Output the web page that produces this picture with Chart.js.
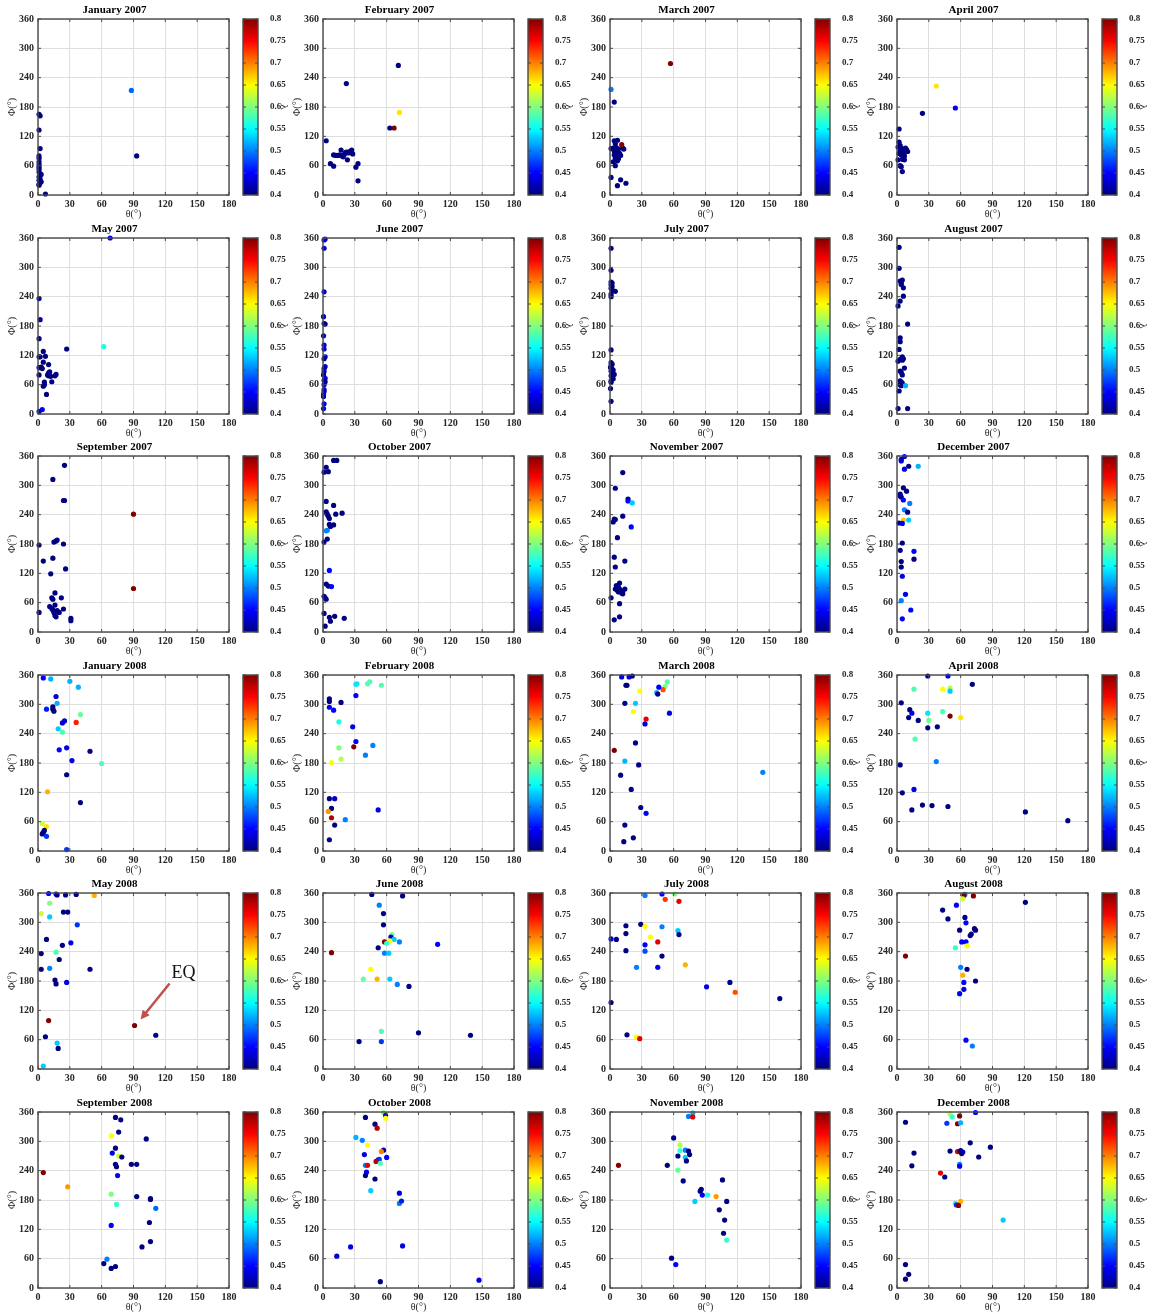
<!DOCTYPE html>
<html lang="en">
<head>
<meta charset="UTF-8">
<title>Monthly θ–Φ scatter, 2007–2008</title>
<script src="https://cdn.jsdelivr.net/npm/chart.js@4.4.0/dist/chart.umd.min.js"></script>
<style>
  body { margin: 0; background: #fff; }
  #wrap { position: relative; width: 1153px; height: 1314px; }
  #wrap canvas { position: absolute; }
</style>
</head>
<body>
<div id="wrap"></div>
<script>
// each point: [theta, phi, lambda]
const jan2007 = [[1,165,.4],[2,162,.4],[1,133,.4],[2,95,.4],[1,80,.4],[1,75,.4],[1,68,.4],[1,62,.4],[1,57,.4],[1,52,.4],[1,47,.4],[2,43,.4],[3,42,.4],[1,37,.4],[2,33,.4],[1,30,.4],[3,27,.4],[2,25,.4],[1,22,.4],[1,20,.4],[7,2,.4],[88,214,.49],[93,80,.4]];
const feb2007 = [[3,111,.4],[7,64,.4],[10,59,.4],[10,82,.4],[12,81,.4],[14,81,.4],[16,82,.4],[17,92,.4],[18,80,.4],[19,78,.4],[20,83,.4],[21,86,.4],[22,88,.4],[23,72,.4],[24,86,.4],[25,89,.4],[27,92,.4],[28,84,.4],[31,57,.4],[33,64,.4],[33,29,.4],[22,228,.4],[71,265,.4],[63,137,.4],[67,137,.8],[72,169,.66]];
const mar2007 = [[57,269,.8],[1,216,.5],[4,190,.4],[4,111,.4],[7,112,.4],[5,105,.4],[3,96,.4],[1,95,.4],[6,97,.4],[8,94,.4],[12,96,.4],[13,94,.4],[4,90,.4],[7,88,.4],[9,85,.4],[4,82,.4],[6,80,.4],[10,81,.4],[5,75,.4],[8,74,.4],[3,68,.4],[7,70,.4],[5,60,.4],[11,103,.8],[1,36,.4],[10,31,.4],[15,24,.4],[7,19,.4]];
const apr2007 = [[37,223,.66],[55,178,.44],[24,167,.4],[2,135,.4],[2,108,.4],[1,98,.4],[3,101,.4],[4,95,.4],[6,94,.4],[8,96,.4],[9,93,.4],[10,89,.4],[3,90,.4],[5,88,.4],[2,85,.4],[4,82,.4],[6,85,.4],[7,80,.4],[1,72,.4],[5,73,.4],[7,72,.4],[3,60,.4],[4,58,.4],[5,48,.4]];
const may2007 = [[68,360,.45],[62,138,.56],[27,133,.4],[1,236,.42],[2,193,.42],[1,154,.4],[1,117,.4],[2,117,.4],[5,128,.4],[7,118,.4],[5,106,.4],[10,101,.4],[1,95,.4],[2,95,.4],[3,96,.4],[4,93,.4],[1,80,.4],[9,80,.4],[10,78,.4],[10,84,.4],[11,86,.4],[12,77,.4],[16,78,.4],[17,81,.4],[13,66,.4],[5,57,.4],[6,60,.4],[6,65,.4],[8,40,.4],[4,9,.45],[1,5,.42]];
const jun2007 = [[2,358,.45],[1,356,.43],[1,339,.43],[1,250,.44],[0.5,199,.42],[1,185,.44],[2,184,.4],[0.5,160,.43],[1,141,.44],[1,133,.43],[2,117,.43],[1,113,.4],[2,97,.44],[1,93,.4],[1,87,.43],[0.5,80,.4],[2,73,.44],[1,69,.43],[2,66,.4],[1,60,.43],[1,50,.44],[1,46,.42],[0.5,40,.43],[0.5,36,.42],[1,21,.44],[0.5,11,.43]];
const jul2007 = [[1,339,.4],[1,294,.4],[1,270,.4],[2,268,.4],[1,264,.4],[2,261,.4],[1,257,.4],[2,254,.4],[5,251,.4],[1,245,.4],[1,240,.4],[1,131,.4],[1,105,.4],[2,102,.4],[1,99,.4],[0.5,95,.4],[2,92,.4],[3,90,.4],[1,88,.4],[2,85,.4],[4,81,.4],[1,78,.4],[2,75,.4],[3,72,.4],[1,68,.4],[1,65,.4],[0.5,52,.4],[1,26,.4]];
const aug2007 = [[2,341,.4],[2,298,.4],[3,272,.4],[4,268,.4],[5,274,.4],[4,265,.4],[6,258,.4],[6,241,.4],[3,231,.4],[1,221,.4],[10,184,.4],[3,156,.4],[3,148,.4],[2,132,.4],[5,117,.4],[6,113,.4],[3,112,.4],[1,108,.4],[5,110,.4],[7,94,.4],[3,88,.4],[4,85,.4],[5,80,.4],[3,68,.4],[4,65,.4],[5,63,.4],[3,60,.4],[4,58,.4],[8,58,.52],[2,47,.4],[1,11,.4],[10,11,.4]];
const sep2007 = [[90,241,.8],[90,89,.8],[25,341,.4],[14,312,.4],[24,269,.4],[25,269,.4],[17,186,.4],[18,188,.4],[15,184,.4],[24,180,.4],[1,178,.4],[14,151,.4],[5,145,.4],[26,129,.4],[12,119,.4],[16,80,.4],[13,70,.4],[22,70,.4],[14,67,.4],[11,52,.4],[13,48,.4],[14,45,.4],[16,55,.4],[18,44,.4],[15,40,.4],[20,40,.4],[24,47,.4],[16,34,.4],[17,31,.4],[1,40,.4],[31,28,.4],[31,23,.4]];
const oct2007 = [[10,351,.4],[13,351,.4],[3,337,.4],[1,327,.4],[5,328,.4],[3,267,.4],[10,259,.4],[3,246,.4],[4,241,.4],[5,237,.4],[6,232,.4],[12,241,.4],[18,243,.4],[6,220,.4],[7,216,.4],[10,219,.4],[4,208,.5],[3,207,.5],[4,190,.4],[1,184,.4],[6,126,.45],[3,98,.4],[5,94,.4],[8,93,.45],[1,73,.4],[2,70,.4],[3,67,.4],[1,38,.4],[6,30,.4],[11,32,.4],[7,22,.4],[20,28,.4],[2,12,.4]];
const nov2007 = [[12,326,.4],[5,294,.4],[17,272,.4],[17,268,.45],[21,264,.53],[12,237,.4],[5,230,.4],[4,231,.4],[3,225,.4],[20,215,.45],[7,193,.4],[4,153,.4],[14,145,.4],[5,133,.4],[6,95,.4],[8,92,.4],[9,100,.4],[5,88,.4],[7,85,.4],[8,82,.4],[10,85,.4],[11,80,.4],[12,83,.4],[14,88,.4],[12,78,.4],[9,88,.4],[1,70,.4],[9,58,.4],[4,25,.4],[9,31,.4]];
const dec2007 = [[7,359,.45],[4,350,.45],[4,353,.43],[7,333,.44],[11,339,.4],[20,339,.52],[6,295,.4],[9,288,.4],[3,282,.4],[3,278,.42],[4,276,.4],[6,270,.45],[12,263,.5],[7,250,.5],[10,245,.4],[6,229,.67],[11,229,.53],[2,223,.4],[5,222,.45],[5,182,.4],[3,167,.4],[16,165,.45],[16,149,.4],[4,144,.4],[4,133,.4],[5,114,.44],[8,77,.44],[4,64,.5],[13,45,.45],[5,27,.45]];
const jan2008 = [[5,354,.45],[12,352,.52],[30,347,.52],[38,335,.52],[17,316,.43],[18,302,.52],[14,295,.4],[8,290,.46],[14,290,.4],[15,286,.4],[40,279,.59],[25,266,.43],[23,262,.43],[36,263,.74],[19,250,.53],[23,243,.58],[27,211,.44],[20,207,.45],[49,204,.4],[32,185,.44],[60,179,.58],[27,156,.4],[9,121,.68],[40,99,.4],[4,56,.63],[8,50,.66],[6,42,.4],[5,38,.4],[4,35,.4],[8,30,.47],[27,3,.47]];
const feb2008 = [[31,341,.54],[32,342,.54],[42,342,.58],[44,346,.58],[55,339,.58],[31,318,.45],[6,311,.4],[6,306,.4],[17,304,.4],[6,294,.45],[10,288,.45],[15,264,.56],[28,254,.44],[31,224,.45],[47,216,.5],[29,213,.8],[15,211,.6],[40,196,.5],[17,188,.62],[8,181,.65],[6,107,.4],[11,107,.43],[8,87,.4],[52,84,.44],[5,81,.69],[8,68,.78],[21,64,.5],[11,53,.4],[6,23,.4]];
const mar2008 = [[11,356,.44],[18,356,.44],[21,358,.4],[15,339,.4],[16,339,.4],[28,327,.65],[54,346,.58],[52,337,.6],[50,330,.72],[46,335,.45],[44,324,.52],[45,321,.4],[14,302,.4],[24,302,.53],[22,285,.65],[34,270,.76],[33,260,.44],[56,282,.45],[24,221,.4],[4,206,.8],[14,184,.52],[27,176,.4],[10,155,.4],[144,161,.5],[20,126,.4],[29,89,.4],[34,77,.45],[14,53,.4],[22,27,.4],[13,19,.4]];
const apr2008 = [[29,358,.4],[48,358,.44],[71,341,.4],[16,331,.58],[43,331,.65],[50,333,.62],[50,327,.53],[4,303,.4],[12,289,.4],[14,282,.44],[11,273,.4],[29,282,.54],[43,285,.58],[50,276,.8],[60,273,.66],[30,267,.59],[20,267,.4],[29,252,.4],[38,254,.4],[17,229,.58],[37,183,.5],[3,176,.4],[16,126,.44],[5,119,.4],[24,94,.4],[33,93,.4],[48,91,.4],[14,84,.4],[121,80,.4],[161,62,.4]];
const may2008 = [[10,359,.45],[17,358,.45],[18,356,.4],[26,356,.4],[36,357,.4],[53,355,.68],[11,339,.6],[3,318,.63],[11,311,.53],[24,321,.4],[28,321,.4],[37,295,.47],[8,265,.4],[31,258,.44],[23,253,.4],[3,236,.4],[17,239,.58],[20,224,.4],[11,206,.5],[3,204,.4],[49,204,.4],[16,182,.4],[17,174,.4],[27,177,.44],[10,99,.8],[91,89,.8],[111,69,.4],[7,66,.4],[18,53,.53],[19,42,.4],[5,6,.53]];
const jun2008 = [[46,357,.4],[75,354,.4],[53,335,.5],[57,318,.4],[57,295,.4],[65,275,.6],[64,270,.44],[67,265,.53],[72,260,.5],[58,260,.8],[63,262,.65],[60,257,.57],[108,255,.45],[52,248,.4],[58,237,.5],[62,237,.53],[8,238,.8],[45,204,.65],[38,184,.59],[51,184,.68],[63,184,.53],[70,173,.5],[81,169,.4],[55,77,.58],[90,74,.4],[139,69,.4],[34,56,.4],[55,56,.47]];
const jul2008 = [[61,358,.6],[49,358,.45],[33,355,.5],[52,347,.73],[65,343,.76],[29,296,.4],[33,292,.65],[15,293,.4],[49,291,.5],[64,283,.53],[15,277,.4],[65,275,.4],[38,270,.65],[1,266,.44],[6,265,.4],[45,260,.76],[33,254,.45],[33,241,.48],[15,242,.4],[49,231,.4],[71,213,.68],[25,208,.5],[45,208,.45],[91,168,.44],[113,177,.4],[118,157,.72],[160,144,.4],[1,136,.4],[16,70,.4],[25,65,.65],[28,62,.76]];
const aug2008 = [[64,357,.5],[63,355,.8],[72,354,.8],[62,348,.63],[121,341,.4],[56,335,.45],[43,325,.4],[64,310,.4],[48,307,.4],[65,299,.45],[73,287,.4],[74,284,.4],[59,284,.4],[70,276,.4],[69,273,.4],[61,260,.45],[65,260,.45],[66,252,.65],[55,248,.57],[8,231,.8],[60,208,.5],[66,204,.4],[62,192,.68],[74,180,.4],[63,177,.45],[63,163,.44],[59,154,.45],[65,59,.45],[71,47,.5]];
const sep2008 = [[73,349,.4],[78,344,.4],[76,319,.4],[69,311,.65],[102,305,.4],[73,286,.4],[70,276,.44],[76,270,.63],[79,268,.4],[88,253,.4],[93,253,.4],[73,253,.4],[74,248,.4],[75,230,.45],[5,236,.8],[28,207,.69],[69,192,.6],[93,187,.4],[106,183,.4],[106,181,.4],[74,171,.57],[111,163,.49],[69,128,.45],[105,134,.4],[106,95,.4],[98,84,.4],[65,59,.5],[62,50,.4],[73,44,.4],[69,40,.4]];
const oct2008 = [[57,359,.6],[59,353,.45],[59,347,.65],[40,349,.4],[49,335,.4],[51,327,.78],[31,308,.52],[37,302,.5],[42,292,.65],[57,282,.4],[55,279,.7],[60,267,.45],[39,273,.44],[52,262,.45],[53,263,.47],[50,259,.78],[54,255,.58],[40,251,.5],[42,251,.76],[41,237,.45],[40,230,.4],[49,223,.4],[45,199,.53],[72,194,.44],[72,173,.5],[74,178,.46],[75,86,.44],[26,84,.44],[13,65,.43],[54,13,.4],[147,16,.44]];
const nov2008 = [[78,358,.52],[74,351,.5],[78,350,.76],[60,307,.4],[66,293,.62],[71,282,.5],[66,281,.57],[74,280,.4],[75,273,.4],[64,270,.4],[71,267,.53],[72,260,.4],[54,251,.4],[64,241,.59],[8,251,.8],[69,219,.4],[106,221,.4],[85,198,.4],[86,202,.4],[87,190,.45],[92,190,.56],[100,187,.69],[110,177,.4],[80,177,.53],[103,160,.4],[108,139,.4],[107,112,.4],[110,98,.57],[58,61,.4],[62,48,.45]];
const dec2008 = [[74,359,.45],[50,356,.62],[52,350,.57],[59,352,.8],[8,339,.4],[47,337,.47],[57,336,.8],[60,338,.52],[69,297,.4],[88,288,.4],[50,280,.4],[57,279,.76],[59,279,.8],[60,281,.4],[62,278,.44],[61,275,.4],[16,276,.4],[77,268,.4],[14,250,.4],[59,253,.5],[59,249,.44],[41,235,.76],[45,227,.4],[60,177,.68],[55,173,.57],[56,170,.47],[58,169,.8],[100,139,.53],[8,48,.4],[11,28,.4],[8,18,.4]];

const months = [jan2007, feb2007, mar2007, apr2007, may2007, jun2007, jul2007, aug2007, sep2007, oct2007, nov2007, dec2007,
                jan2008, feb2008, mar2008, apr2008, may2008, jun2008, jul2008, aug2008, sep2008, oct2008, nov2008, dec2008];
const titles = ['January 2007', 'February 2007', 'March 2007', 'April 2007', 'May 2007', 'June 2007',
                'July 2007', 'August 2007', 'September 2007', 'October 2007', 'November 2007', 'December 2007',
                'January 2008', 'February 2008', 'March 2008', 'April 2008', 'May 2008', 'June 2008',
                'July 2008', 'August 2008', 'September 2008', 'October 2008', 'November 2008', 'December 2008'];
const xTicks = [0, 30, 60, 90, 120, 150, 180];
const yTicks = [0, 60, 120, 180, 240, 300, 360];
const cbTicks = [0.4, 0.45, 0.5, 0.55, 0.6, 0.65, 0.7, 0.75, 0.8];
const eqPanel = 16;          // May 2008
const eqPoint = [91, 89];

const SERIF = "'Liberation Serif', 'Times New Roman', serif";
const LMIN = 0.4, LMAX = 0.8;

// MATLAB jet colormap
function jet(l) {
  const t = Math.min(1, Math.max(0, (l - LMIN) / (LMAX - LMIN)));
  const c = v => Math.round(255 * Math.min(1, Math.max(0, v)));
  return 'rgb(' + c(1.5 - Math.abs(4 * t - 3)) + ',' + c(1.5 - Math.abs(4 * t - 2)) + ',' + c(1.5 - Math.abs(4 * t - 1)) + ')';
}

// axes box + small inward ticks, matlab style
const boxPlugin = {
  id: 'box',
  afterDraw(chart) {
    const { ctx, chartArea: a, scales } = chart;
    ctx.save();
    ctx.strokeStyle = '#4a4a4a';
    ctx.lineWidth = 1;
    ctx.beginPath();
    if (scales.x && scales.x.options.display !== false) {
      scales.x.ticks.forEach(t => {
        const px = scales.x.getPixelForValue(t.value);
        ctx.moveTo(px, a.bottom); ctx.lineTo(px, a.bottom - 3);
        ctx.moveTo(px, a.top); ctx.lineTo(px, a.top + 3);
      });
    }
    scales.y.ticks.forEach(t => {
      const py = scales.y.getPixelForValue(t.value);
      ctx.moveTo(a.left, py); ctx.lineTo(a.left + 3, py);
      ctx.moveTo(a.right, py); ctx.lineTo(a.right - 3, py);
    });
    ctx.stroke();
    ctx.lineWidth = 1.4;
    ctx.strokeRect(a.left, a.top, a.right - a.left, a.bottom - a.top);
    ctx.restore();
  }
};

// jet gradient for the colorbar
const jetBar = {
  id: 'jetBar',
  beforeDraw(chart) {
    const { ctx, chartArea: a } = chart;
    const g = ctx.createLinearGradient(0, a.bottom, 0, a.top);
    for (let k = 0; k <= 8; k++) g.addColorStop(k / 8, jet(LMIN + (LMAX - LMIN) * k / 8));
    ctx.save();
    ctx.fillStyle = g;
    ctx.fillRect(a.left, a.top, a.right - a.left, a.bottom - a.top);
    ctx.restore();
  }
};

// "EQ" arrow on the May 2008 panel, anchored to the data point
const eqArrow = {
  id: 'eqArrow',
  afterDraw(chart) {
    const { ctx, scales } = chart;
    const px = scales.x.getPixelForValue(eqPoint[0]);
    const py = scales.y.getPixelForValue(eqPoint[1]);
    const x0 = px + 35, y0 = py - 42, x1 = px + 6, y1 = py - 6;
    const ang = Math.atan2(y1 - y0, x1 - x0);
    ctx.save();
    ctx.strokeStyle = '#c0504d';
    ctx.fillStyle = '#c0504d';
    ctx.lineWidth = 2.5;
    ctx.beginPath();
    ctx.moveTo(x0, y0);
    ctx.lineTo(x1 - 6 * Math.cos(ang), y1 - 6 * Math.sin(ang));
    ctx.stroke();
    ctx.beginPath();
    ctx.moveTo(x1, y1);
    ctx.lineTo(x1 - 9 * Math.cos(ang) + 4.5 * Math.sin(ang), y1 - 9 * Math.sin(ang) - 4.5 * Math.cos(ang));
    ctx.lineTo(x1 - 9 * Math.cos(ang) - 4.5 * Math.sin(ang), y1 - 9 * Math.sin(ang) + 4.5 * Math.cos(ang));
    ctx.closePath();
    ctx.fill();
    ctx.fillStyle = '#111';
    ctx.font = '18px ' + SERIF;
    ctx.textBaseline = 'alphabetic';
    ctx.fillText('EQ', px + 37, py - 47);
    ctx.restore();
  }
};

const wrap = document.getElementById('wrap');
const colLeft = [0, 285, 572, 859];
const tickFont = { family: SERIF, size: 10, weight: 'bold' };
const labelFont = { family: SERIF, size: 10 };

function addCanvas(left, top, w, h) {
  const c = document.createElement('canvas');
  c.width = w; c.height = h;
  c.style.left = left + 'px';
  c.style.top = top + 'px';
  wrap.appendChild(c);
  return c;
}

months.forEach((pts, i) => {
  const left = colLeft[i % 4];
  const top = Math.round(Math.floor(i / 4) * 218.5);

  const cv = addCanvas(left, top, 240, 222);
  new Chart(cv, {
    type: 'scatter',
    data: {
      datasets: [{
        data: pts.map(p => ({ x: p[0], y: p[1] })),
        pointBackgroundColor: pts.map(p => jet(p[2])),
        pointBorderWidth: 0,
        pointRadius: 2.6,
        pointHoverRadius: 2.6,
        clip: false
      }]
    },
    options: {
      responsive: false,
      animation: false,
      events: [],
      layout: { padding: { right: 11 } },
      plugins: {
        legend: { display: false },
        tooltip: { enabled: false },
        title: {
          display: true,
          text: titles[i],
          color: '#000',
          font: { family: SERIF, size: 11, weight: 'bold', lineHeight: 1.2 },
          padding: { top: 4, bottom: 1.8 }
        }
      },
      scales: {
        x: {
          type: 'linear', min: 0, max: 180,
          afterBuildTicks: s => { s.ticks = xTicks.map(v => ({ value: v })); },
          afterFit: s => { s.height = 27; s.paddingLeft = 0; s.paddingRight = 0; },
          grid: { color: '#dedede', drawTicks: false },
          border: { display: false },
          ticks: { font: tickFont, color: '#262626', padding: 3, maxRotation: 0 },
          title: { display: true, text: 'θ(°)', font: labelFont, color: '#262626', padding: { top: 0, bottom: 2 } }
        },
        y: {
          type: 'linear', min: 0, max: 360,
          afterBuildTicks: s => { s.ticks = yTicks.map(v => ({ value: v })); },
          afterFit: s => { s.width = 38; s.paddingTop = 0; s.paddingBottom = 0; },
          grid: { color: '#dedede', drawTicks: false },
          border: { display: false },
          ticks: { font: tickFont, color: '#262626', padding: 4 },
          title: { display: true, text: 'Φ(°)', font: labelFont, color: '#262626', padding: { top: 6, bottom: 0 } }
        }
      }
    },
    plugins: i === eqPanel ? [boxPlugin, eqArrow] : [boxPlugin]
  });

  // colorbar
  const cb = addCanvas(left + 240, top, 50, 222);
  new Chart(cb, {
    type: 'scatter',
    data: { datasets: [] },
    options: {
      responsive: false,
      animation: false,
      events: [],
      layout: { padding: { top: 19, bottom: 27, left: 3, right: 0 } },
      plugins: { legend: { display: false }, tooltip: { enabled: false } },
      scales: {
        x: { display: false, min: 0, max: 1 },
        y: {
          position: 'right', min: LMIN, max: LMAX,
          afterBuildTicks: s => { s.ticks = cbTicks.map(v => ({ value: v })); },
          afterFit: s => { s.width = 32; s.paddingTop = 0; s.paddingBottom = 0; },
          grid: { display: false },
          border: { display: false },
          ticks: { font: { family: SERIF, size: 9, weight: 'bold' }, color: '#262626', padding: 4,
                   callback: v => String(+v.toFixed(2)) },
          title: { display: true, text: 'λ', font: { family: SERIF, size: 11 }, color: '#262626', padding: { top: 0, bottom: 0 } }
        }
      }
    },
    plugins: [jetBar, boxPlugin]
  });
});
</script>
</body>
</html>
